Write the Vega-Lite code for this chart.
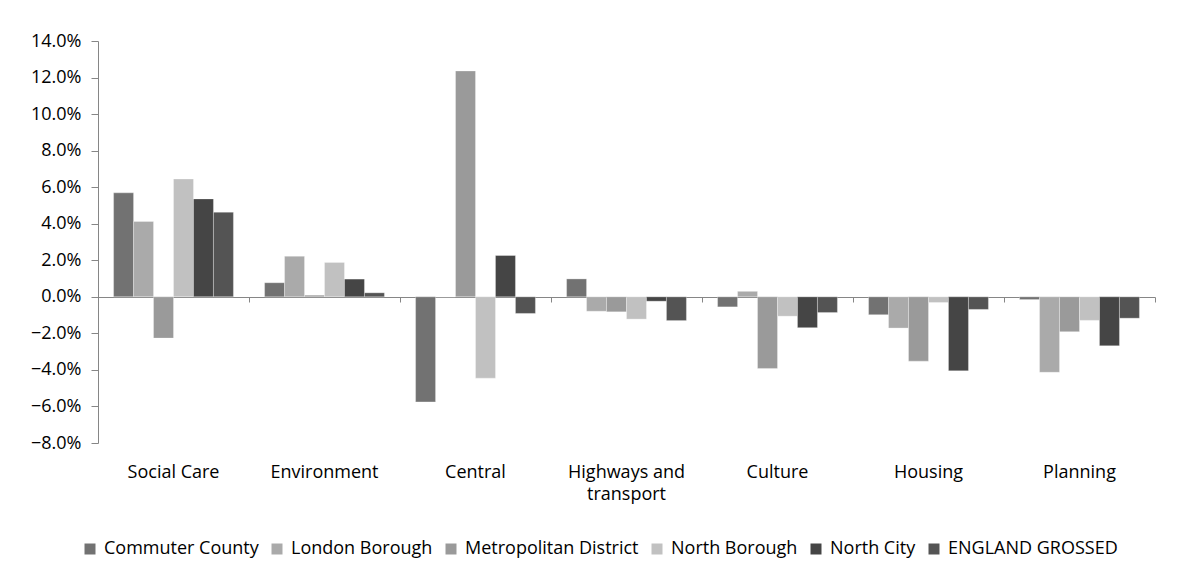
{
  "$schema": "https://vega.github.io/schema/vega-lite/v6.json",
  "autosize": {"type": "none"},
  "width": 1057,
  "height": 402,
  "padding": {"left": 98, "top": 41, "right": 32, "bottom": 135},
  "background": "white",
  "config": {
    "view": {"stroke": null},
    "font": "Open Sans",
    "axis": {"labelFont": "Open Sans", "labelColor": "#000000", "labelFontSize": 18},
    "legend": {"labelFont": "Open Sans", "labelFontSize": 18, "labelColor": "#000000"}
  },
  "data": {
    "values": [
      {"service": "Social Care", "type": "Commuter County", "value": 0.0569},
      {"service": "Social Care", "type": "London Borough", "value": 0.0412},
      {"service": "Social Care", "type": "Metropolitan District", "value": -0.0226},
      {"service": "Social Care", "type": "North Borough", "value": 0.0645},
      {"service": "Social Care", "type": "North City", "value": 0.0536},
      {"service": "Social Care", "type": "ENGLAND GROSSED", "value": 0.0463},
      {"service": "Environment", "type": "Commuter County", "value": 0.0077},
      {"service": "Environment", "type": "London Borough", "value": 0.0222},
      {"service": "Environment", "type": "Metropolitan District", "value": 0.0009},
      {"service": "Environment", "type": "North Borough", "value": 0.0188},
      {"service": "Environment", "type": "North City", "value": 0.0097},
      {"service": "Environment", "type": "ENGLAND GROSSED", "value": 0.0022},
      {"service": "Central", "type": "Commuter County", "value": -0.0575},
      {"service": "Central", "type": "London Borough", "value": 0.0},
      {"service": "Central", "type": "Metropolitan District", "value": 0.1236},
      {"service": "Central", "type": "North Borough", "value": -0.0445},
      {"service": "Central", "type": "North City", "value": 0.0226},
      {"service": "Central", "type": "ENGLAND GROSSED", "value": -0.0091},
      {"service": "Highways and transport", "type": "Commuter County", "value": 0.0098},
      {"service": "Highways and transport", "type": "London Borough", "value": -0.0079},
      {"service": "Highways and transport", "type": "Metropolitan District", "value": -0.0082},
      {"service": "Highways and transport", "type": "North Borough", "value": -0.0122},
      {"service": "Highways and transport", "type": "North City", "value": -0.0024},
      {"service": "Highways and transport", "type": "ENGLAND GROSSED", "value": -0.013},
      {"service": "Culture", "type": "Commuter County", "value": -0.0055},
      {"service": "Culture", "type": "London Borough", "value": 0.003},
      {"service": "Culture", "type": "Metropolitan District", "value": -0.0392},
      {"service": "Culture", "type": "North Borough", "value": -0.0106},
      {"service": "Culture", "type": "North City", "value": -0.0169},
      {"service": "Culture", "type": "ENGLAND GROSSED", "value": -0.0086},
      {"service": "Housing", "type": "Commuter County", "value": -0.0098},
      {"service": "Housing", "type": "London Borough", "value": -0.0171},
      {"service": "Housing", "type": "Metropolitan District", "value": -0.0352},
      {"service": "Housing", "type": "North Borough", "value": -0.0031},
      {"service": "Housing", "type": "North City", "value": -0.0405},
      {"service": "Housing", "type": "ENGLAND GROSSED", "value": -0.0069},
      {"service": "Planning", "type": "Commuter County", "value": -0.0015},
      {"service": "Planning", "type": "London Borough", "value": -0.0413},
      {"service": "Planning", "type": "Metropolitan District", "value": -0.0191},
      {"service": "Planning", "type": "North Borough", "value": -0.0129},
      {"service": "Planning", "type": "North City", "value": -0.0268},
      {"service": "Planning", "type": "ENGLAND GROSSED", "value": -0.0117}
    ]
  },
  "encoding": {
    "y": {
      "field": "value",
      "type": "quantitative",
      "scale": {"domain": [-0.08, 0.14], "nice": false, "zero": false},
      "axis": {
        "title": null,
        "format": ".1%",
        "values": [-0.08, -0.06, -0.04, -0.02, 0, 0.02, 0.04, 0.06, 0.08, 0.1, 0.12, 0.14],
        "grid": false,
        "domainColor": "#868686",
        "tickColor": "#868686",
        "tickSize": 7,
        "labelPadding": 10
      }
    }
  },
  "layer": [
    {
      "mark": {"type": "bar", "stroke": "#ffffff", "strokeWidth": 0.5, "strokeOpacity": 0.6},
      "encoding": {
        "x": {
          "field": "service",
          "type": "nominal",
          "sort": null,
          "scale": {"paddingInner": 0, "paddingOuter": 0},
          "axis": {
            "title": null,
            "orient": "bottom",
            "labelAngle": 0,
            "domain": false,
            "ticks": false,
            "labelPadding": 20,
            "labelLineHeight": 22,
            "labelExpr": "datum.label == 'Highways and transport' ? ['Highways and', 'transport'] : datum.label"
          }
        },
        "xOffset": {
          "field": "type",
          "type": "nominal",
          "sort": ["Commuter County", "London Borough", "Metropolitan District", "North Borough", "North City", "ENGLAND GROSSED"],
          "scale": {"paddingInner": 0, "paddingOuter": 0.78}
        },
        "color": {
          "field": "type",
          "type": "nominal",
          "sort": ["Commuter County", "London Borough", "Metropolitan District", "North Borough", "North City", "ENGLAND GROSSED"],
          "scale": {
            "domain": ["Commuter County", "London Borough", "Metropolitan District", "North Borough", "North City", "ENGLAND GROSSED"],
            "range": ["#727272", "#aaaaaa", "#9a9a9a", "#c1c1c1", "#454545", "#545454"]
          },
          "legend": {
            "title": null,
            "orient": "none",
            "direction": "horizontal",
            "legendX": -17,
            "legendY": 499,
            "symbolType": "square",
            "symbolSize": 121,
            "symbolStrokeWidth": 0,
            "columnPadding": 9,
            "labelOffset": 5,
            "labelLimit": 400
          }
        }
      }
    },
    {
      "mark": {"type": "bar", "opacity": 0},
      "encoding": {
        "x": {
          "field": "service",
          "type": "nominal",
          "sort": null,
          "axis": {
            "title": null,
            "orient": "bottom",
            "offset": -146,
            "labels": false,
            "domain": true,
            "domainColor": "#868686",
            "tickColor": "#868686",
            "tickSize": 5,
            "tickBand": "extent"
          }
        }
      }
    }
  ],
  "resolve": {"axis": {"x": "independent"}}
}
